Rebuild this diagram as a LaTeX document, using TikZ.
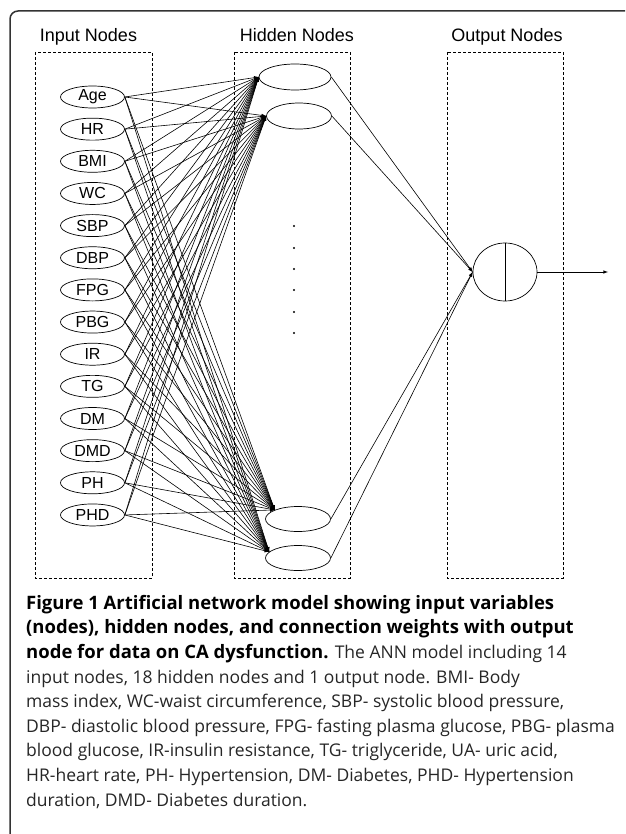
\documentclass[tikz,border=0pt]{standalone}
\usepackage{fontspec}
\setmainfont{Liberation Sans}
\newfontfamily\capfont{Open Sans}
\usetikzlibrary{shapes.geometric}
\tikzset{
  unit/.style={draw, ellipse, inner sep=0pt, line width=0.7pt},
  inode/.style={unit, minimum width=64, minimum height=22, font=\fontsize{16}{16}\selectfont},
  hnode/.style={unit, minimum width=65, minimum height=25},
  groupbox/.style={draw, dash pattern=on 3pt off 2pt, line width=0.6pt},
  grouptitle/.style={anchor=base, font=\fontsize{18}{18}\selectfont},
  link/.style={->, line width=0.6pt},
}
\newcommand\capbf[1]{\textcolor{black}{\fontsize{18.5}{24.6}\selectfont\bfseries #1}}
\begin{document}
\begin{tikzpicture}[>=latex, x=1pt, y=-1pt]
\useasboundingbox (0,0) rectangle (625,834);
% frame
\draw[line width=1.5pt, black!80, rounded corners=8pt] (10,834)--(10,11)--(625,11);
% groups
\draw[groupbox] (35,52) rectangle (152,578);
\draw[groupbox] (234,52) rectangle (350,578);
\draw[groupbox] (447,52) rectangle (563,578);
\node[grouptitle] (tin) at (88.5,42) {Input Nodes};
\node[grouptitle] (thid) at (297,42) {Hidden Nodes};
\node[grouptitle] (tout) at (507,42) {Output Nodes};
% input nodes
\foreach \name [count=\i] in {Age,HR,BMI,WC,SBP,DBP,FPG,PBG,IR,TG,DM,DMD,PH,PHD}
{
    \node[inode] (in\i) at (92.5,{97+32.15*(\i-1)}) {\name};
}
% hidden nodes
\node[hnode, minimum width=72, minimum height=26] (h1) at (295,77) {};
\node[hnode, minimum height=26] (h2) at (299,116) {};
\node[hnode] (h3) at (298,519) {};
\node[hnode] (h4) at (298,558) {};
\foreach \y in {226,248,269,290,312,333}
{
    \fill (294,\y) circle (1.2pt);
}
% output node
\node[unit, minimum width=64, minimum height=58] (out) at (505,272) {};
\draw[line width=0.7pt] (out.north)--(out.south);
\coordinate (res) at (608,272);
\draw[link] (out.east)--(res);
% connections
\foreach \i in {1,...,14}
{
    \foreach \h/\a in {h1/west,h2/west,h3/north west,h4/168}
    {
        \draw[link] (in\i.east)--(\h.\a);
    }
}
\foreach \h in {h1,h2,h3,h4}
{
    \draw[link] (\h.east)--(out.west);
}
% caption
\node[anchor=north west, align=left, inner sep=0pt, text=black!85,
      font=\capfont\fontsize{17.5}{24.6}\selectfont] (cap) at (26,595)
{\capbf{Figure 1 Artificial network model showing input variables}\\
\capbf{(nodes), hidden nodes, and connection weights with output}\\
\capbf{node for data on CA dysfunction.} The ANN model including 14\\
input nodes, 18 hidden nodes and 1 output node. BMI- Body\\
mass index, WC-waist circumference, SBP- systolic blood pressure,\\
DBP- diastolic blood pressure, FPG- fasting plasma glucose, PBG- plasma\\
blood glucose, IR-insulin resistance, TG- triglyceride, UA- uric acid,\\
HR-heart rate, PH- Hypertension, DM- Diabetes, PHD- Hypertension\\
duration, DMD- Diabetes duration.};
\end{tikzpicture}
\end{document}
